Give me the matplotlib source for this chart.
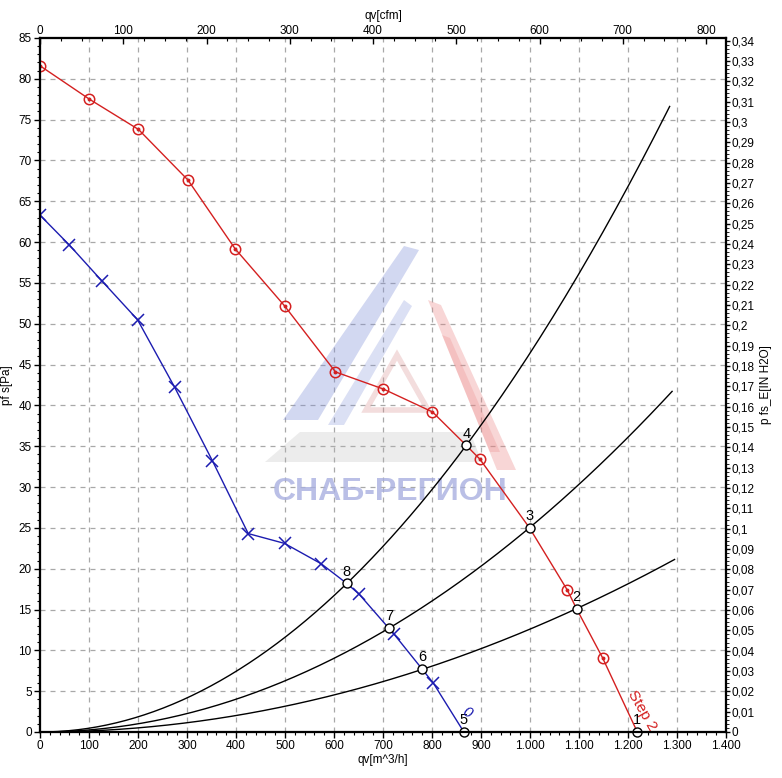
import numpy as np
import matplotlib
matplotlib.use("Agg")
import matplotlib.pyplot as plt
from matplotlib.ticker import MultipleLocator, FixedLocator, FuncFormatter
from matplotlib.patches import Polygon

plt.rcParams['font.family'] = ['Liberation Sans', 'DejaVu Sans']

# ---- data ----
# Step 2 curve (red), circle markers
red_q = [0, 101, 201, 302, 398, 499, 603, 701, 801, 898, 1076, 1148]
red_p = [81.6, 77.5, 73.8, 67.6, 59.2, 52.2, 44.1, 42.0, 39.2, 33.4, 17.4, 9.1]
# Step 1 curve (blue), x markers
blue_q = [0, 59, 127, 199, 275, 352, 425, 499, 574, 651, 723, 803]
blue_p = [63.3, 59.7, 55.2, 50.5, 42.2, 33.2, 24.3, 23.1, 20.6, 16.9, 11.95, 5.96]
# operating points
op_labels = ["1", "2", "3", "4", "5", "6", "7", "8"]
op_q = [1219, 1095, 999, 870, 865, 780, 712, 626]
op_p = [0.0, 15.1, 25.0, 35.1, 0.0, 7.7, 12.7, 18.2]
# system curves p = k * q^2
sys_k = [4.64e-5, 2.507e-5, 1.26e-5]
sys_qmax = [1285, 1290, 1295]

PA_PER_INH2O = 249.089
M3H_PER_CFM = 1.699011

W, H = 782, 778
fig = plt.figure(figsize=(W / 100, H / 100), dpi=100)
L, R, T, B = 40, 726, 38, 732
ax = fig.add_axes([L / W, 1 - B / H, (R - L) / W, (B - T) / H])

ax.set_xlim(0, 1400)
ax.set_ylim(0, 85)

grid_kw = dict(color='#a8a8a8', linestyle=(0, (4, 4)), linewidth=0.9, zorder=0)
for xv in range(100, 1400, 100):
    ax.axvline(xv, **grid_kw)
for yv in range(5, 85, 5):
    ax.axhline(yv, **grid_kw)


# ---- watermark (logo + text), drawn in figure pixel coordinates ----
def px(pts):
    return [(x / W, 1 - y / H) for x, y in pts]


wm = [
    (px([(283, 420), (404, 246), (419, 250), (318, 420)]), '#8090d8', 0.35),
    (px([(328, 425), (404, 300), (412, 306), (344, 425)]), '#8090d8', 0.28),
    (px([(428, 300), (441, 305), (516, 470), (497, 470)]), '#ea8080', 0.32),
    (px([(442, 335), (450, 338), (500, 452), (490, 452)]), '#ea8080', 0.25),
    (px([(300, 432), (470, 432), (482, 462), (265, 462)]), '#b4b4b4', 0.25),
]
for pts, col, a in wm:
    ax.add_patch(Polygon(pts, closed=True, transform=fig.transFigure,
                         facecolor=col, edgecolor='none', alpha=a, zorder=0.5,
                         clip_on=False))
ax.add_patch(Polygon(px([(397, 355), (428, 410), (366, 410)]), closed=True,
                     transform=fig.transFigure, facecolor='none',
                     edgecolor='#d89090', linewidth=4, alpha=0.3, zorder=0.5,
                     clip_on=False))
ax.text(714, 29.4, "СНАБ-РЕГИОН", ha='center', va='center', fontsize=23,
        fontweight='bold', color='#a9b0e0', alpha=0.8, zorder=0.5)

# system curves
for k, qm in zip(sys_k, sys_qmax):
    qq = np.linspace(0, qm, 200)
    ax.plot(qq, k * qq ** 2, color='black', linewidth=1.0, zorder=2)

red = '#d42020'
blue = '#1c1cb0'

# red curve line: markers + operating points in order
rq = red_q + [op_q[3], op_q[2], op_q[1], op_q[0]]
rp = red_p + [op_p[3], op_p[2], op_p[1], op_p[0]]
order = np.argsort(rq)
ax.plot(np.array(rq)[order], np.array(rp)[order], color=red, linewidth=1.0, zorder=3)
ax.plot(red_q, red_p, linestyle='none', marker='o', markersize=7.5,
        markerfacecolor='none', markeredgecolor=red, markeredgewidth=1.1, zorder=4)
ax.plot(red_q, red_p, linestyle='none', marker='o', markersize=1.8,
        color=red, zorder=4)

bq = blue_q + [op_q[7], op_q[6], op_q[5], op_q[4]]
bp = blue_p + [op_p[7], op_p[6], op_p[5], op_p[4]]
order = np.argsort(bq)
ax.plot(np.array(bq)[order], np.array(bp)[order], color=blue, linewidth=1.0, zorder=3)
ax.plot(blue_q, blue_p, linestyle='none', marker='x', markersize=8.5,
        color=blue, markeredgewidth=1.1, zorder=4)

# operating points
ax.plot(op_q, op_p, linestyle='none', marker='o', markersize=6.5,
        markerfacecolor='white', markeredgecolor='black', markeredgewidth=1.0,
        zorder=5, clip_on=False)
for lab, q, p in zip(op_labels, op_q, op_p):
    ax.annotate(lab, (q, p), xytext=(0, 3.5), textcoords='offset points',
                ha='center', va='bottom', fontsize=10.5, color='black', zorder=6)

ax.text(1228, 2.6, "Step 2", rotation=-60, rotation_mode='anchor', color=red,
        fontsize=11, ha='center', va='center', zorder=6)
ax.text(871, 2.4, "0", rotation=-30, color=blue, fontsize=11, style='italic',
        ha='center', va='center', zorder=6)

# ticks main axes
ax.xaxis.set_major_locator(MultipleLocator(100))
ax.xaxis.set_minor_locator(MultipleLocator(20))
ax.yaxis.set_major_locator(MultipleLocator(5))
ax.yaxis.set_minor_locator(MultipleLocator(1))


def fmt_x(v, pos):
    v = int(round(v))
    if v >= 1000:
        return "{}.{:03d}".format(v // 1000, v % 1000)
    return str(v)


def fmt_r(v, pos):
    if abs(v) < 1e-9:
        return "0"
    s = "{:.2f}".format(v).rstrip('0')
    return s.replace('.', ',')


ax.xaxis.set_major_formatter(FuncFormatter(fmt_x))
ax.tick_params(axis='both', which='major', direction='out', length=4, width=1,
               labelsize=8.5, pad=2)
ax.tick_params(axis='both', which='minor', direction='out', length=2.5, width=0.8)
for s in ax.spines.values():
    s.set_linewidth(1.5)
ax.set_xlabel("qv[m^3/h]", fontsize=8.5, labelpad=1)
ax.set_ylabel("pf s[Pa]", fontsize=8.5, labelpad=4)

# right axis (in H2O)
ax2 = ax.twinx()
ax2.set_ylim(0, 85 / PA_PER_INH2O)
ax2.yaxis.set_major_locator(FixedLocator(np.round(np.arange(0, 0.345, 0.01), 2)))
ax2.yaxis.set_minor_locator(MultipleLocator(0.002))
ax2.yaxis.set_major_formatter(FuncFormatter(fmt_r))
ax2.tick_params(axis='y', which='major', direction='out', length=3, width=1,
                labelsize=8.5, pad=1)
ax2.tick_params(axis='y', which='minor', direction='out', length=2, width=0.6)
ax2.set_ylabel("p fs_E[IN H2O]", fontsize=8.5, labelpad=4)
for s in ax2.spines.values():
    s.set_linewidth(1.5)

# top axis (cfm)
ax3 = ax.twiny()
ax3.set_xlim(0, 1400 / M3H_PER_CFM)
ax3.xaxis.set_major_locator(MultipleLocator(100))
ax3.xaxis.set_minor_locator(MultipleLocator(25))
ax3.tick_params(axis='x', which='major', direction='in', length=4, width=1,
                labelsize=8.5, pad=1)
ax3.tick_params(axis='x', which='minor', direction='in', length=2.5, width=0.8)
ax3.set_xlabel("qv[cfm]", fontsize=8.5, labelpad=4)
for s in ax3.spines.values():
    s.set_linewidth(1.5)

fig.savefig("out.png", dpi=100)
